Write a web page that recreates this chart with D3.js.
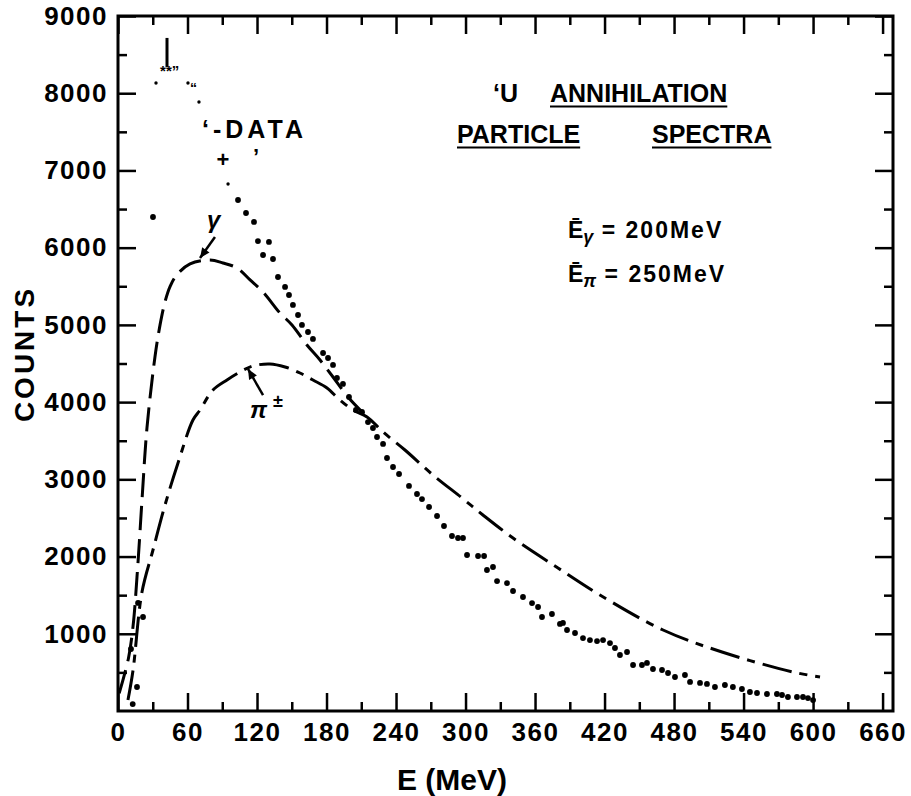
<!DOCTYPE html>
<html>
<head>
<meta charset="utf-8">
<script src="https://cdn.jsdelivr.net/npm/d3@7"></script>
<style>
  body { margin: 0; background: #fff; }
  svg { display: block; font-family: "Liberation Sans", Arial, Helvetica, sans-serif; font-weight: bold; }
</style>
</head>
<body>
<div id="viz"></div>
<script>
var width = 911;
var height = 796;
var margin = {left: 118, top: 16, right: 18, bottom: 85};

// measured spectrum (dots)
var dataE = [12.7, 16.4, 11.2, 17.3, 21.6, 30.2, 32.8, 60.4, 69.9, 95.0, 103.6, 110.5, 117.4, 120.8, 130.3, 125.2,
  133.8, 138.1, 144.2, 147.6, 151.0, 155.4, 158.8, 164.0, 168.3, 177.0, 181.3, 185.6, 189.0, 194.2, 199.4, 205.4,
  210.6, 215.8, 220.1, 223.6, 228.8, 232.2, 237.4, 242.6, 251.2, 258.1, 262.4, 268.5, 275.4, 281.4, 288.3, 293.5,
  297.8, 301.3, 310.8, 316.0, 318.5, 323.7, 327.2, 335.8, 341.0, 349.6, 357.4, 362.6, 366.0, 374.6, 381.5, 384.1,
  387.6, 394.5, 401.4, 407.4, 413.5, 418.7, 424.7, 429.0, 433.3, 439.4, 444.6, 452.3, 456.6, 461.8, 469.6, 474.8,
  480.8, 489.4, 493.8, 502.4, 508.4, 515.3, 523.9, 530.8, 538.6, 545.5, 551.6, 560.2, 568.8, 573.2, 578.3, 586.1,
  591.3, 595.6, 600.0];
var dataCounts = [90, 311, 803, 1399, 1217, 6397, 8133, 8133, 7887, 6825, 6617, 6449, 6333, 6086, 6074, 5905,
  5853, 5620, 5491, 5387, 5258, 5128, 4999, 4908, 4818, 4636, 4571, 4481, 4313, 4235, 4067, 3898,
  3872, 3742, 3665, 3548, 3458, 3276, 3160, 3069, 2914, 2810, 2745, 2642, 2525, 2396, 2266, 2240,
  2240, 2020, 2007, 2007, 1826, 1865, 1683, 1657, 1554, 1476, 1398, 1347, 1217, 1256, 1127, 1140,
  1049, 1010, 945, 919, 906, 919, 880, 816, 725, 764, 596, 596, 622, 544, 531, 492,
  440, 466, 376, 363, 350, 311, 337, 311, 285, 246, 233, 220, 220, 207, 181, 181,
  181, 168, 142];

// gamma spectrum curve (long dashes)
var gammaE = [1, 9, 13, 17, 21, 25, 31.9, 36.3, 40.6, 45, 50.9, 62.2, 79.4, 90.6, 102.7, 114, 125.2, 139.8, 150.2,
  163.1, 174.4, 185.6, 198.5, 215];
var gammaCounts = [230, 680, 1100, 1865, 2800, 3665, 4584, 5000, 5300, 5500, 5650, 5790, 5840, 5802, 5737, 5582,
  5426, 5154, 4999, 4740, 4545, 4325, 4067, 3808];

// charged pion spectrum curve (dash-dot)
var pionE = [8.6, 13, 20.7, 30.2, 40.6, 51.8, 64.7, 70.8, 82, 94.1, 105.3, 116.5, 131.2, 144.2, 157.1, 168.3,
  180.4, 191.6, 202.9, 215, 228.8, 247.7, 271.9, 297, 315, 341, 379.8, 416, 470.5, 521.4, 582.7, 606];
var pionCounts = [142, 531, 1541, 2085, 2668, 3212, 3768, 3898, 4157, 4287, 4390, 4468, 4494, 4455, 4377, 4286,
  4183, 4027, 3898, 3808, 3613, 3380, 3056, 2758, 2538, 2240, 1852, 1502, 1049, 764, 505, 440];

var xTicks = [0, 60, 120, 180, 240, 300, 360, 420, 480, 540, 600, 660];
var xMinor = [30, 90, 150, 210, 270, 330, 390, 450, 510, 570, 630];
var yTicks = [1000, 2000, 3000, 4000, 5000, 6000, 7000, 8000, 9000];
var yMinor = [500, 1500, 2500, 3500, 4500, 5500, 6500, 7500, 8500];

var svg = d3.select('#viz').append('svg')
  .attr('width', width)
  .attr('height', height);

var x = d3.scaleLinear().domain([0, 669]).range([margin.left, width - margin.right]);
var y = d3.scaleLinear().domain([0, 9000]).range([height - margin.bottom, margin.top]);

function cleanAxis(g) {
  g.select('.domain').remove();
  g.selectAll('.tick line').attr('stroke', '#000').attr('stroke-width', 2.5);
  g.selectAll('.tick text')
    .attr('fill', '#000')
    .style('font-size', '26px')
    .style('font-weight', 'bold')
    .style('letter-spacing', '1.5px')
    .style('font-family', '"Liberation Sans", Arial, sans-serif');
}

// bottom + top
svg.append('g')
  .attr('transform', 'translate(0,' + y(0) + ')')
  .call(d3.axisBottom(x).tickValues(xTicks).tickSize(-18).tickPadding(12).tickFormat(d3.format('d')))
  .call(cleanAxis);
svg.append('g')
  .attr('transform', 'translate(0,' + y(0) + ')')
  .call(d3.axisBottom(x).tickValues(xMinor).tickSize(-9).tickFormat(''))
  .call(cleanAxis);
svg.append('g')
  .attr('transform', 'translate(0,' + y(9000) + ')')
  .call(d3.axisTop(x).tickValues(xTicks).tickSize(-18).tickFormat(''))
  .call(cleanAxis);
svg.append('g')
  .attr('transform', 'translate(0,' + y(9000) + ')')
  .call(d3.axisTop(x).tickValues(xMinor).tickSize(-9).tickFormat(''))
  .call(cleanAxis);

// left + right
svg.append('g')
  .attr('transform', 'translate(' + x(0) + ',0)')
  .call(d3.axisLeft(y).tickValues(yTicks).tickSize(-18).tickPadding(10).tickFormat(d3.format('d')))
  .call(cleanAxis);
svg.append('g')
  .attr('transform', 'translate(' + x(0) + ',0)')
  .call(d3.axisLeft(y).tickValues(yMinor).tickSize(-9).tickFormat(''))
  .call(cleanAxis);
svg.append('g')
  .attr('transform', 'translate(' + x(669) + ',0)')
  .call(d3.axisRight(y).tickValues(yTicks).tickSize(-18).tickFormat(''))
  .call(cleanAxis);
svg.append('g')
  .attr('transform', 'translate(' + x(669) + ',0)')
  .call(d3.axisRight(y).tickValues(yMinor).tickSize(-9).tickFormat(''))
  .call(cleanAxis);

// frame
svg.append('rect')
  .attr('x', x(0))
  .attr('y', y(9000))
  .attr('width', x(669) - x(0))
  .attr('height', y(0) - y(9000))
  .style('fill', 'none')
  .style('stroke', '#000')
  .style('stroke-width', 3);

// axis titles
svg.append('text')
  .attr('x', 452).attr('y', 790)
  .attr('text-anchor', 'middle')
  .style('font-size', '30px')
  .text('E (MeV)');

svg.append('text')
  .attr('transform', 'translate(34,354) rotate(-90)')
  .attr('text-anchor', 'middle')
  .style('font-size', '28px')
  .style('letter-spacing', '3px')
  .text('COUNTS');

// curves
var line = d3.line()
  .x(function (d) { return x(d[0]); })
  .y(function (d) { return y(d[1]); })
  .curve(d3.curveCatmullRom.alpha(0.5));

svg.append('path')
  .datum(d3.zip(gammaE, gammaCounts))
  .attr('d', line)
  .style('fill', 'none')
  .style('stroke', '#000')
  .style('stroke-width', 3)
  .style('stroke-dasharray', '24,9');

svg.append('path')
  .datum(d3.zip(pionE, pionCounts))
  .attr('d', line)
  .style('fill', 'none')
  .style('stroke', '#000')
  .style('stroke-width', 3)
  .style('stroke-dasharray', '30,8,8,8');

// data dots
svg.append('g').selectAll('circle')
  .data(d3.zip(dataE, dataCounts))
  .enter().append('circle')
  .attr('cx', function (d) { return x(d[0]); })
  .attr('cy', function (d) { return y(d[1]); })
  .attr('r', function (d) { return d[1] > 6700 ? 1.7 : 2.9; })
  .style('fill', '#000');

// labels near the data
var marks = svg.append('g');
marks.append('line')
  .attr('x1', x(42.3)).attr('x2', x(42.3))
  .attr('y1', y(8716)).attr('y2', y(8340))
  .style('stroke', '#000').style('stroke-width', 3);
marks.append('text').attr('x', x(36.3)).attr('y', y(8223)).style('font-size', '15px').text('**\u201d');
marks.append('text').attr('x', x(62.2)).attr('y', y(8003)).style('font-size', '14px').text('\u201c');
marks.append('text').attr('x', x(72.5)).attr('y', y(7420))
  .style('font-size', '25px').style('letter-spacing', '4px').text('\u2018-DATA');
marks.append('text').attr('x', x(90.6)).attr('y', y(7045))
  .attr('text-anchor', 'middle').style('font-size', '22px').text('+');
marks.append('text').attr('x', x(116.5)).attr('y', y(7084)).style('font-size', '22px').text('\u2019');

// gamma label + arrow
marks.append('text').attr('x', x(76.8)).attr('y', y(6255))
  .style('font-size', '24px').style('font-style', 'italic').text('\u03b3');

function arrow(e0, c0, e1, c1) {
  var x0 = x(e0), y0 = y(c0), x1 = x(e1), y1 = y(c1);
  var ang = Math.atan2(y1 - y0, x1 - x0);
  marks.append('line')
    .attr('x1', x0).attr('y1', y0).attr('x2', x1).attr('y2', y1)
    .style('stroke', '#000').style('stroke-width', 2.5);
  var L = 10, W = 4.5;
  var bx = x1 - L * Math.cos(ang), by = y1 - L * Math.sin(ang);
  marks.append('path')
    .attr('d', 'M' + x1 + ',' + y1 +
      'L' + (bx + W * Math.sin(ang)) + ',' + (by - W * Math.cos(ang)) +
      'L' + (bx - W * Math.sin(ang)) + ',' + (by + W * Math.cos(ang)) + 'Z')
    .style('fill', '#000');
}
arrow(83.7, 6138, 70.8, 5866);
arrow(125.2, 4092, 112.2, 4429);

marks.append('text').attr('x', x(113.9)).attr('y', y(3794))
  .style('font-size', '24px').style('font-style', 'italic').text('\u03c0');
marks.append('text').attr('x', x(133.8)).attr('y', y(3937))
  .style('font-size', '18px').text('\u00b1');

// title block
function underlined(str, px, py, size) {
  var t = svg.append('text').attr('x', px).attr('y', py).style('font-size', size + 'px').text(str);
  var w = t.node().getComputedTextLength();
  svg.append('line')
    .attr('x1', px).attr('x2', px + w)
    .attr('y1', py + 4.5).attr('y2', py + 4.5)
    .style('stroke', '#000').style('stroke-width', 2.2);
  return t;
}
svg.append('text').attr('x', 493).attr('y', 102).style('font-size', '25px').text('\u2018U');
underlined('ANNIHILATION', 550, 102, 25);
underlined('PARTICLE', 457, 143, 25);
underlined('SPECTRA', 652, 143, 25);

function meanLabel(sym, val, py) {
  var t = svg.append('text').attr('x', 568).attr('y', py)
    .style('font-size', '23px');
  t.append('tspan').text('\u0112');
  t.append('tspan').attr('dy', 5).style('font-size', '18px').style('font-style', 'italic').text(sym);
  t.append('tspan').attr('dy', -5).style('letter-spacing', '2px').text(' = ' + val);
}
meanLabel('\u03b3', '200MeV', 238);
meanLabel('\u03c0', '250MeV', 282);
</script>
</body>
</html>
